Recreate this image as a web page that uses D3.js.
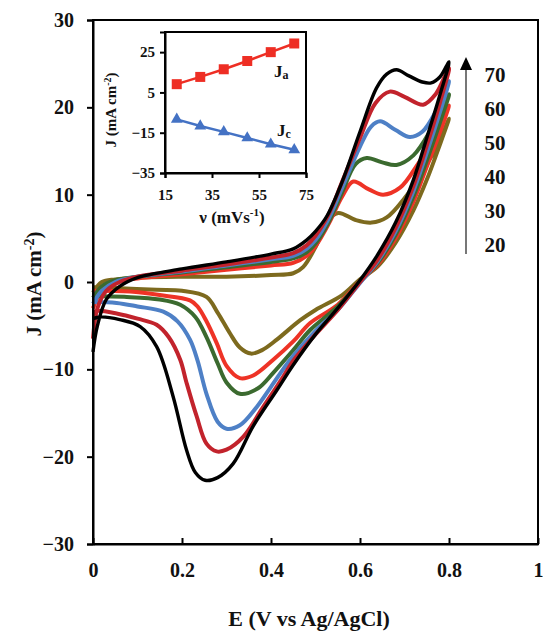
<!DOCTYPE html>
<html>
<head>
<meta charset="utf-8">
<script src="https://cdn.jsdelivr.net/npm/d3@7"></script>
<style>
  body { margin: 0; background: #fff; }
  svg text { font-family: "Liberation Serif", "Times New Roman", serif; font-weight: bold; fill: #111; }
</style>
</head>
<body>
<svg id="chart" width="543" height="633"></svg>
<script>
// scan rates (mV/s) and their colours
const scanRates = [20, 30, 40, 50, 60, 70];
const scanColors = ['#7d6a1e', '#ee3326', '#3b6a2f', '#4e80c6', '#c2232c', '#000000'];

// CV loops: [E (V), J (mA cm-2)], forward scan then reverse scan
const cv20 = [[0,-1.2],[0.02,0],[0.05,0.3],[0.1,0.5],[0.2,0.6],[0.3,0.6],[0.4,0.8],[0.45,1.0],[0.472,1.7],[0.5,4.0],[0.525,6.9],[0.551,7.9],[0.59,7.1],[0.626,6.8],[0.66,7.4],[0.7,9.6],[0.735,12.2],[0.78,16.3],[0.8,18.7],
  [0.78,15.8],[0.75,11.7],[0.72,8.2],[0.68,4.5],[0.64,1.8],[0.6,0.3],[0.56,-1.5],[0.5,-3.2],[0.465,-4.4],[0.413,-6.6],[0.38,-7.8],[0.355,-8.2],[0.33,-7.5],[0.308,-5.9],[0.28,-3.5],[0.255,-1.7],[0.2,-1.0],[0.143,-0.9],[0.05,-0.7],[0,-0.6]];
const cv30 = [[0,-3],[0.02,-1],[0.05,0],[0.1,0.4],[0.2,0.9],[0.3,1.4],[0.4,1.9],[0.45,2.2],[0.48,3.0],[0.5,4.1],[0.53,6.7],[0.56,9.8],[0.585,11.5],[0.62,10.6],[0.652,10.0],[0.69,10.8],[0.73,13.5],[0.77,16.8],[0.8,20.2],
  [0.78,17.2],[0.75,13.2],[0.72,9.2],[0.68,5.0],[0.64,2.0],[0.6,0.1],[0.55,-2.6],[0.488,-4.7],[0.45,-6.8],[0.405,-8.9],[0.36,-10.7],[0.33,-11.0],[0.3,-9.6],[0.278,-7.0],[0.255,-4.5],[0.235,-2.8],[0.218,-2.1],[0.15,-1.5],[0.083,-1.1],[0,-1.0]];
const cv40 = [[0,-1.8],[0.02,-0.5],[0.05,0.2],[0.1,0.6],[0.2,1.1],[0.3,1.7],[0.4,2.3],[0.45,2.7],[0.48,3.4],[0.5,4.4],[0.53,6.9],[0.56,10.3],[0.59,13.5],[0.615,14.2],[0.65,13.7],[0.682,13.4],[0.72,14.5],[0.76,17.5],[0.8,21.5],
  [0.78,18.3],[0.75,13.9],[0.72,9.8],[0.68,5.4],[0.64,2.2],[0.6,0],[0.55,-2.8],[0.488,-5.5],[0.45,-7.8],[0.405,-10.4],[0.37,-12.2],[0.33,-12.8],[0.3,-11.5],[0.28,-9.3],[0.255,-6.3],[0.23,-4.0],[0.196,-2.6],[0.15,-2.0],[0.07,-1.7],[0,-1.6]];
const cv50 = [[0,-2.5],[0.02,-1],[0.05,0],[0.1,0.6],[0.2,1.2],[0.3,1.9],[0.4,2.6],[0.45,3.0],[0.48,3.8],[0.5,4.8],[0.53,7.3],[0.56,10.8],[0.6,15.5],[0.625,17.8],[0.645,18.4],[0.68,17.4],[0.712,16.6],[0.74,17.2],[0.77,19.5],[0.8,23],
  [0.78,19.5],[0.75,14.8],[0.72,10.4],[0.68,5.8],[0.64,2.4],[0.6,-0.1],[0.55,-3.2],[0.5,-5.6],[0.443,-8.9],[0.4,-12.0],[0.368,-14.3],[0.33,-16.4],[0.3,-16.8],[0.28,-16.0],[0.255,-12.8],[0.235,-9.0],[0.218,-6.6],[0.19,-4.5],[0.158,-3.4],[0.1,-2.8],[0.053,-2.4],[0,-2.3]];
const cv60 = [[0,-6.5],[0.01,-3],[0.03,-1],[0.06,0],[0.1,0.6],[0.2,1.3],[0.3,2.0],[0.4,2.8],[0.45,3.3],[0.48,4.2],[0.5,5.3],[0.53,7.8],[0.56,11.5],[0.6,16.5],[0.635,20.5],[0.667,21.8],[0.7,21.2],[0.742,20.3],[0.77,21.5],[0.8,24.5],
  [0.78,20.6],[0.75,15.6],[0.72,11.0],[0.68,6.2],[0.64,2.6],[0.6,0],[0.55,-3.2],[0.5,-6.0],[0.45,-9.0],[0.428,-10.8],[0.38,-14.5],[0.338,-17.7],[0.3,-19.2],[0.278,-19.4],[0.255,-18.5],[0.233,-15.4],[0.21,-11.5],[0.196,-8.9],[0.17,-6.3],[0.143,-4.9],[0.1,-4.2],[0.053,-3.6],[0.01,-3.3],[0,-3.5]];
const cv70 = [[0,-8],[0.01,-5],[0.03,-2],[0.06,-0.5],[0.1,0.5],[0.2,1.5],[0.3,2.3],[0.4,3.2],[0.45,3.8],[0.48,4.8],[0.5,5.8],[0.525,7.5],[0.56,11.5],[0.6,17.2],[0.637,22.2],[0.66,23.8],[0.682,24.3],[0.71,23.6],[0.74,22.9],[0.76,22.8],[0.78,23.5],[0.8,25.2],
  [0.78,21.5],[0.75,16.5],[0.72,11.7],[0.68,6.8],[0.637,2.9],[0.6,0.2],[0.55,-3.0],[0.5,-6.0],[0.45,-9.5],[0.413,-12.4],[0.36,-16.5],[0.315,-20.8],[0.28,-22.4],[0.252,-22.7],[0.23,-21.8],[0.21,-19.2],[0.18,-13.1],[0.143,-7.4],[0.106,-5.1],[0.06,-4.3],[0.016,-4.0],[0,-4.2]];
const cvLoops = [cv20, cv30, cv40, cv50, cv60, cv70];

// ticks
const xTicks = [0, 0.2, 0.4, 0.6, 0.8, 1];
const yTicks = [-30, -20, -10, 0, 10, 20, 30];

// inset: peak current vs scan rate
const insetRates = [20, 30, 40, 50, 60, 70];
const insetJa = [9.1, 12.7, 16.5, 20.6, 25.0, 29.3];
const insetJc = [-8.4, -11.7, -14.6, -17.6, -20.7, -23.5];
const insetXTicks = [15, 35, 55, 75];
const insetYTicks = [-35, -15, 5, 25];

const svg = d3.select('#chart');

// main scales
const x = d3.scaleLinear().domain([0, 1]).range([93, 538]);
const y = d3.scaleLinear().domain([-30, 30]).range([544, 20]);

// CV curves
const line = d3.line()
    .x(d => x(d[0]))
    .y(d => y(d[1]))
    .curve(d3.curveCatmullRom.alpha(0.5));

svg.append('g')
    .selectAll('path')
    .data(cvLoops)
    .enter().append('path')
    .attr('d', line)
    .attr('fill', 'none')
    .attr('stroke', (d, i) => scanColors[i])
    .attr('stroke-width', (d, i) => i === 5 ? 3.4 : 4)
    .attr('stroke-linejoin', 'round');

// frame
svg.append('rect')
    .attr('x', 93).attr('y', 20)
    .attr('width', 445).attr('height', 524)
    .attr('fill', 'none')
    .attr('stroke', '#000')
    .attr('stroke-width', 2);

// axes
const yAxis = svg.append('g')
    .attr('transform', 'translate(93,0)')
    .call(d3.axisLeft(y).tickValues(yTicks).tickSize(6).tickPadding(13).tickFormat(d3.format('d')));
const xAxis = svg.append('g')
    .attr('transform', 'translate(0,544)')
    .call(d3.axisBottom(x).tickValues(xTicks).tickSizeInner(-6).tickSizeOuter(0).tickPadding(19).tickFormat(d => d));

[xAxis, yAxis].forEach(a => {
    a.select('.domain').attr('stroke', '#000').attr('stroke-width', 2);
    a.selectAll('.tick line').attr('stroke', '#000').attr('stroke-width', 2);
    a.selectAll('.tick text').style('font-size', '20px').attr('fill', '#111');
});

// axis titles
svg.append('text')
    .attr('x', 309).attr('y', 626)
    .attr('text-anchor', 'middle')
    .style('font-size', '22px')
    .text('E (V vs Ag/AgCl)');

const yTitle = svg.append('text')
    .attr('transform', 'translate(41,284) rotate(-90)')
    .attr('text-anchor', 'middle')
    .style('font-size', '21px');
yTitle.append('tspan').text('J (mA cm');
yTitle.append('tspan').attr('dy', -7).style('font-size', '14px').text('-2');
yTitle.append('tspan').attr('dy', 7).text(')');

// scan rate arrow and labels
svg.append('line')
    .attr('x1', 466).attr('x2', 466)
    .attr('y1', 254).attr('y2', 68)
    .attr('stroke', '#777')
    .attr('stroke-width', 2);
svg.append('path')
    .attr('d', 'M460,70 L472,70 L466,57 Z')
    .attr('fill', '#000');

const rateScale = d3.scaleLinear().domain([20, 70]).range([245, 75]);
svg.append('g')
    .selectAll('text')
    .data(scanRates)
    .enter().append('text')
    .attr('x', 495)
    .attr('y', d => rateScale(d))
    .attr('dy', '0.35em')
    .attr('text-anchor', 'middle')
    .style('font-size', '21px')
    .text(d => d);

// inset
const ix = d3.scaleLinear().domain([15, 75]).range([165, 306]);
const iy = d3.scaleLinear().domain([-35, 35]).range([173, 32]);

svg.append('rect')
    .attr('x', 165).attr('y', 32)
    .attr('width', 141).attr('height', 141)
    .attr('fill', '#fff')
    .attr('stroke', '#000')
    .attr('stroke-width', 2);

const iyAxis = svg.append('g')
    .attr('transform', 'translate(165,0)')
    .call(d3.axisLeft(iy).tickValues(insetYTicks).tickSize(5).tickPadding(5));
const ixAxis = svg.append('g')
    .attr('transform', 'translate(0,173)')
    .call(d3.axisBottom(ix).tickValues(insetXTicks).tickSize(5).tickPadding(11));
[iyAxis, ixAxis].forEach(a => {
    a.select('.domain').attr('stroke', '#000').attr('stroke-width', 2);
    a.selectAll('.tick line').attr('stroke', '#000').attr('stroke-width', 2);
    a.selectAll('.tick text').style('font-size', '15px').attr('fill', '#111');
});

const iLine = d3.line().x((d, i) => ix(insetRates[i])).y(d => iy(d));

svg.append('path')
    .attr('d', iLine(insetJa))
    .attr('fill', 'none')
    .attr('stroke', '#ee2e24')
    .attr('stroke-width', 2.5);
svg.append('g')
    .selectAll('rect')
    .data(insetJa)
    .enter().append('rect')
    .attr('x', (d, i) => ix(insetRates[i]) - 5)
    .attr('y', d => iy(d) - 5)
    .attr('width', 10).attr('height', 10)
    .attr('fill', '#ee2e24');

svg.append('path')
    .attr('d', iLine(insetJc))
    .attr('fill', 'none')
    .attr('stroke', '#4472c4')
    .attr('stroke-width', 2.5);
const tri = d3.symbol().type(d3.symbolTriangle).size(60);
svg.append('g')
    .selectAll('path')
    .data(insetJc)
    .enter().append('path')
    .attr('d', tri)
    .attr('transform', (d, i) => `translate(${ix(insetRates[i])},${iy(d)})`)
    .attr('fill', '#4472c4');

// Ja / Jc labels
const jaLabel = svg.append('text').attr('x', 274).attr('y', 77).style('font-size', '17px');
jaLabel.append('tspan').text('J');
jaLabel.append('tspan').attr('dy', 2).style('font-size', '12px').text('a');
const jcLabel = svg.append('text').attr('x', 277).attr('y', 136).style('font-size', '17px');
jcLabel.append('tspan').text('J');
jcLabel.append('tspan').attr('dy', 2).style('font-size', '12px').text('c');

// inset titles
svg.append('text')
    .attr('x', 232).attr('y', 223)
    .attr('text-anchor', 'middle')
    .style('font-size', '17px')
    .call(t => {
        t.append('tspan').text('\u03bd (mVs');
        t.append('tspan').attr('dy', -7).style('font-size', '11px').text('-1');
        t.append('tspan').attr('dy', 7).text(')');
    });

const iyTitle = svg.append('text')
    .attr('transform', 'translate(116,110) rotate(-90)')
    .attr('text-anchor', 'middle')
    .style('font-size', '15px');
iyTitle.append('tspan').text('J (mA cm');
iyTitle.append('tspan').attr('dy', -5).style('font-size', '10px').text('-2');
iyTitle.append('tspan').attr('dy', 5).text(')');
</script>
</body>
</html>
